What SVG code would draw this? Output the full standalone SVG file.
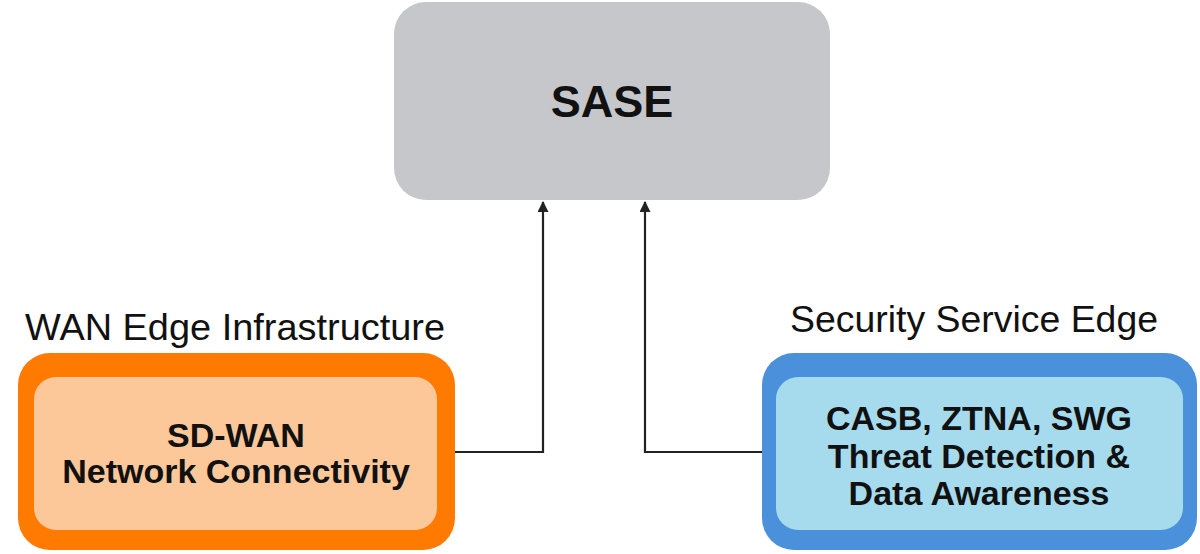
<svg xmlns="http://www.w3.org/2000/svg" width="1200" height="554" viewBox="0 0 1200 554">
<defs>
<style>
.lbl{font-family:"Liberation Sans",Arial,sans-serif;font-size:37px;fill:#111;}
.bold{font-family:"Liberation Sans",Arial,sans-serif;font-weight:bold;fill:#111;text-anchor:middle;}
.conn{fill:none;stroke:#222;stroke-width:2.2;}
</style>
<marker id="arr" viewBox="0 0 10 10" refX="9" refY="5" markerWidth="5" markerHeight="5" orient="auto" markerUnits="strokeWidth">
<path d="M0,0 L10,5 L0,10 z" fill="#222"/>
</marker>
</defs>
<rect width="1200" height="554" fill="#ffffff"/>
<g id="sase">
<rect x="394" y="2" width="436" height="198" rx="32" fill="#C6C7CB"/>
<text class="bold" x="612" y="117" font-size="45">SASE</text>
</g>
<g id="wan-edge">
<text class="lbl" x="25" y="340" textLength="420" lengthAdjust="spacingAndGlyphs">WAN Edge Infrastructure</text>
<rect x="18" y="353" width="437" height="197" rx="32" fill="#FF7A00"/>
<rect x="34" y="377" width="403" height="153" rx="22" fill="#FDC899"/>
<text class="bold" x="236" y="447" font-size="34">SD-WAN</text>
<text class="bold" x="236" y="483" font-size="34">Network Connectivity</text>
</g>
<g id="sse">
<text class="lbl" x="790" y="332" textLength="368" lengthAdjust="spacingAndGlyphs">Security Service Edge</text>
<rect x="762" y="353" width="435" height="197" rx="32" fill="#4A90DA"/>
<rect x="776" y="377" width="407" height="153" rx="22" fill="#A6DBEE"/>
<text class="bold" x="979" y="430" font-size="34">CASB, ZTNA, SWG</text>
<text class="bold" x="979" y="468" font-size="34">Threat Detection &amp;</text>
<text class="bold" x="979" y="505" font-size="34">Data Awareness</text>
</g>
<g id="connectors">
<path class="conn" d="M455,452 H543 V202" marker-end="url(#arr)"/>
<path class="conn" d="M762,452 H645 V202" marker-end="url(#arr)"/>
</g>
</svg>
